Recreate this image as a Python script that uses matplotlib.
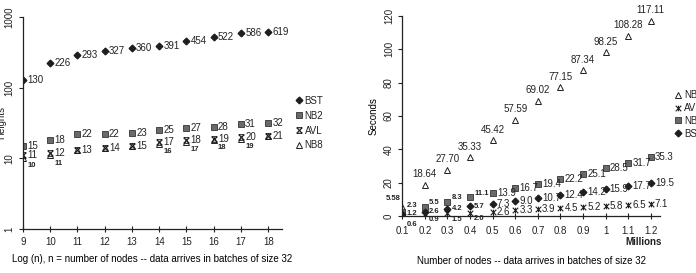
import matplotlib
matplotlib.use('Agg')
import matplotlib.pyplot as plt
from matplotlib.path import Path

plt.rcParams.update({
    'font.family': ['Liberation Sans Narrow', 'Liberation Sans', 'DejaVu Sans'],
    'font.size': 7,
    'axes.linewidth': 0.9,
    'axes.edgecolor': '#222222',
    'xtick.color': '#222222',
    'ytick.color': '#222222',
    'text.color': '#222222',
})

# ---- left chart: tree heights ----
log_n = [9, 10, 11, 12, 13, 14, 15, 16, 17, 18]
h_bst = [130, 226, 293, 327, 360, 391, 454, 522, 586, 619]
h_nb2 = [15, 18, 22, 22, 23, 25, 27, 28, 31, 32]
h_avl = [11, 12, 13, 14, 15, 17, 18, 19, 20, 21]
h_nb8 = [10, 11, 13, 14, 15, 16, 17, 18, 19, 21]
h_nb8_shown = [True, True, False, False, False, True, True, True, True, False]

# ---- right chart: seconds ----
millions = [0.1, 0.2, 0.3, 0.4, 0.5, 0.6, 0.7, 0.8, 0.9, 1.0, 1.1, 1.2]
s_nb8 = [5.58, 18.64, 27.70, 35.33, 45.42, 57.59, 69.02, 77.15, 87.34, 98.25, 108.28, 117.11]
s_nb2 = [2.3, 5.5, 8.3, 11.1, 13.9, 16.7, 19.4, 22.2, 25.1, 28.5, 31.7, 35.3]
s_bst = [1.2, 2.6, 4.2, 5.7, 7.3, 9.0, 10.7, 12.4, 14.2, 15.9, 17.7, 19.5]
s_avl = [0.6, 0.9, 1.5, 2.0, 2.6, 3.3, 3.9, 4.5, 5.2, 5.8, 6.5, 7.1]
x_ticks_r = [0.1, 0.2, 0.3, 0.4, 0.5, 0.6, 0.7, 0.8, 0.9, 1.0, 1.1, 1.2]
x_ticklabels_r = ['0.1', '0.2', '0.3', '0.4', '0.5', '0.6', '0.7', '0.8', '0.9', '1', '1.1', '1.2']

DARK = '#1e1e1e'
GRAY = '#6a6a6a'

# custom markers
hourglass = Path([(-1, -1), (1, 1), (-1, 1), (1, -1), (-1, 1), (1, 1), (-1, -1), (1, -1)],
                 [Path.MOVETO, Path.LINETO] * 4)
zhe = Path([(-1, -1), (1, 1), (-1, 1), (1, -1), (0, 1), (0, -1)],
           [Path.MOVETO, Path.LINETO] * 3)

fig = plt.figure(figsize=(6.96, 2.73), dpi=100)
ax1 = fig.add_axes([0.033, 0.161, 0.372, 0.777])
ax2 = fig.add_axes([0.578, 0.209, 0.370, 0.732])

# ================= left =================
ax1.set_yscale('log')
ax1.plot(log_n, h_bst, ls='none', marker='D', ms=3.4, color=DARK, label='BST')
ax1.plot(log_n, h_nb2, ls='none', marker='s', ms=4.3, mfc=GRAY, mec='#333333', mew=0.6, label='NB2')
ax1.plot(log_n, h_avl, ls='none', marker=hourglass, ms=4, color=DARK, mew=0.8, label='AVL')
ax1.plot(log_n, h_nb8, ls='none', marker='^', ms=4.3, mfc='none', mec=DARK, mew=0.7, label='NB8')

for x, v in zip(log_n, h_bst):
    ax1.annotate(str(v), (x, v), xytext=(3, 0), textcoords='offset points', va='center')
for x, v in zip(log_n, h_nb2):
    ax1.annotate(str(v), (x, v), xytext=(3, 0), textcoords='offset points', va='center')
for x, v in zip(log_n, h_avl):
    ax1.annotate(str(v), (x, v), xytext=(3, 0), textcoords='offset points', va='center')
for x, v, show in zip(log_n, h_nb8, h_nb8_shown):
    if show:
        ax1.annotate(str(v), (x, v), xytext=(3, -5.5), textcoords='offset points',
                     va='center', fontsize=5.5, fontweight='bold')

ax1.set_xlim(9, 18.5)
ax1.set_ylim(1, 1000)
ax1.set_xticks(log_n)
ax1.set_yticks([1, 10, 100, 1000])
ax1.set_yticklabels(['1', '10', '100', '1000'], rotation=90, va='center')
ax1.yaxis.set_minor_locator(plt.NullLocator())
ax1.tick_params(axis='x', direction='inout', length=4, width=0.8, labelsize=7, pad=4)
ax1.tick_params(axis='y', direction='out', length=3, width=0.8, labelsize=7, pad=3)
for s in ('top', 'right'):
    ax1.spines[s].set_visible(False)
ax1.set_xlabel('Log (n), n = number of nodes -- data arrives in batches of size 32', labelpad=5)
fig.text(0.002, 0.55, 'Heights', rotation=90, ha='center', va='center')
ax1.legend(loc='center left', bbox_to_anchor=(0.418, 0.549), bbox_transform=fig.transFigure,
           frameon=False, handlelength=0.6, handletextpad=0.3, labelspacing=0.5,
           borderpad=0, markerscale=1.0)

# ================= right =================
ax2.plot(millions, s_nb8, ls='none', marker='^', ms=4.3, mfc='none', mec=DARK, mew=0.7, label='NB8')
ax2.plot(millions, s_avl, ls='none', marker=zhe, ms=4, color=DARK, mew=0.8, label='AVL')
ax2.plot(millions, s_nb2, ls='none', marker='s', ms=4.5, mfc=GRAY, mec='#333333', mew=0.6, label='NB2')
ax2.plot(millions, s_bst, ls='none', marker='D', ms=3.4, color=DARK, label='BST')

for i, (x, v) in enumerate(zip(millions, s_nb8)):
    if i == 0:
        ax2.annotate(f'{v:.2f}', (x, v), xytext=(-1, 3), textcoords='offset points',
                     ha='right', va='bottom', fontsize=5.5, fontweight='bold')
    else:
        ax2.annotate(f'{v:.2f}', (x, v), xytext=(0, 4), textcoords='offset points',
                     ha='center', va='bottom')

small_off = {'nb2': (3, 3), 'bst': (3, 0), 'avl': (3, -4)}
for key, series in (('nb2', s_nb2), ('bst', s_bst), ('avl', s_avl)):
    for i, (x, v) in enumerate(zip(millions, series)):
        if x <= 0.4:
            dx, dy = small_off[key]
            if key == 'avl' and i == 0:
                dy = -7
            if key == 'nb2' and i == 0:
                dy = 5
            ax2.annotate(f'{v:.1f}', (x, v), xytext=(dx, dy), textcoords='offset points',
                         va='center', fontsize=5.5, fontweight='bold')
        else:
            ax2.annotate(f'{v:.1f}', (x, v), xytext=(3, 0), textcoords='offset points',
                         va='center')

ax2.set_xlim(0.1, 1.24)
ax2.set_ylim(0, 120)
ax2.set_xticks(x_ticks_r)
ax2.set_xticklabels(x_ticklabels_r)
ax2.set_yticks([0, 20, 40, 60, 80, 100, 120])
ax2.set_yticklabels(['0', '20', '40', '60', '80', '100', '120'], rotation=90, va='center')
ax2.tick_params(axis='x', direction='inout', length=4, width=0.8, labelsize=7, pad=5)
ax2.tick_params(axis='y', direction='out', length=3, width=0.8, labelsize=7, pad=3)
for s in ('top', 'right'):
    ax2.spines[s].set_visible(False)
ax2.set_ylabel('Seconds', labelpad=4)
ax2.set_xlabel('Number of nodes -- data arrives in batches of size 32', labelpad=15)
fig.text(0.924, 0.113, 'Millions', fontweight='bold', ha='center', va='center')
ax2.legend(loc='center left', bbox_to_anchor=(0.963, 0.581), bbox_transform=fig.transFigure,
           frameon=False, handlelength=0.6, handletextpad=0.3, labelspacing=0.3,
           borderpad=0)

fig.savefig('out.png', dpi=100)
